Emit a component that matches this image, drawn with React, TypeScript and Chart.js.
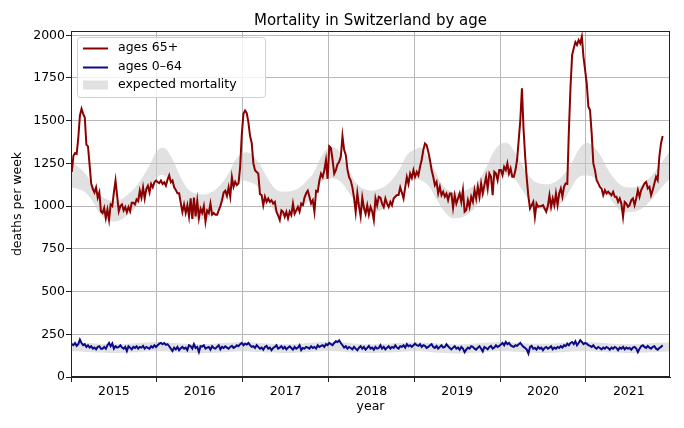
import { useEffect, useRef } from 'react';
import { Chart, registerables } from 'chart.js';
import type { Plugin } from 'chart.js';

Chart.register(...registerables);
Chart.defaults.font.family = '"DejaVu Sans", sans-serif';
Chart.defaults.color = '#000';

const years = [2015, 2016, 2017, 2018, 2019, 2020, 2021];
const weeksPerYear = [53, 52, 52, 52, 52, 53, 52];
const yTicks = [0, 250, 500, 750, 1000, 1250, 1500, 1750, 2000];

// weekly deaths, ages 65+
const deaths65_2015 = [1200, 1295, 1310, 1305, 1400, 1530, 1570, 1540, 1520, 1360, 1350, 1240, 1130, 1100, 1080, 1110, 1050, 1080, 970, 960, 990, 930, 980, 920, 1010, 1000, 1080, 1150, 1060, 970, 1000, 1010, 975, 995, 965, 995, 970, 1020, 1020, 1010, 1040, 1030, 1090, 1050, 1110, 1045, 1100, 1120, 1080, 1130, 1110, 1140, 1150];
const deaths65_2016 = [1140, 1135, 1150, 1130, 1140, 1120, 1155, 1180, 1140, 1150, 1110, 1095, 1075, 1075, 1020, 965, 1010, 960, 1005, 940, 1045, 925, 1050, 940, 1030, 930, 985, 960, 1000, 910, 975, 960, 1015, 950, 960, 950, 950, 975, 1000, 1035, 1080, 1090, 1060, 1110, 1055, 1170, 1113, 1142, 1123, 1133, 1230, 1420];
const deaths65_2017 = [1540, 1560, 1545, 1490, 1410, 1370, 1250, 1210, 1200, 1190, 1070, 1065, 1005, 1055, 1025, 1045, 1025, 1035, 1015, 1025, 967, 945, 918, 975, 967, 938, 967, 928, 967, 947, 1015, 955, 975, 995, 967, 1015, 1006, 1050, 1075, 1090, 1055, 1015, 1035, 967, 1090, 1085, 1150, 1190, 1170, 1210, 1270, 1160];
const deaths65_2018 = [1350, 1340, 1270, 1190, 1210, 1245, 1260, 1290, 1410, 1330, 1300, 1215, 1170, 1150, 1110, 1050, 965, 1075, 1000, 940, 1050, 990, 955, 1005, 950, 995, 970, 918, 1045, 1005, 1055, 1050, 1015, 995, 1045, 1015, 995, 1025, 1005, 1045, 1055, 1065, 1065, 1110, 1080, 1045, 1110, 1170, 1130, 1190, 1165, 1210];
const deaths65_2019 = [1172, 1200, 1180, 1230, 1270, 1330, 1367, 1357, 1318, 1270, 1211, 1172, 1123, 1142, 1074, 1113, 1064, 1084, 1055, 1074, 1035, 1074, 1074, 990, 1064, 1015, 1045, 1074, 1025, 1094, 967, 977, 1035, 995, 1055, 1025, 1094, 1045, 1113, 1055, 1133, 1074, 1123, 1172, 1103, 1191, 1172, 1064, 1201, 1191, 1152, 1211];
const deaths65_2020 = [1211, 1182, 1230, 1211, 1250, 1191, 1220, 1172, 1172, 1211, 1270, 1386, 1504, 1689, 1450, 1290, 1160, 1055, 986, 1006, 1025, 937, 1015, 996, 1000, 1000, 1006, 986, 967, 1000, 1064, 996, 1045, 1006, 1074, 1006, 1074, 1103, 1055, 1113, 1133, 1130, 1445, 1699, 1885, 1924, 1960, 1943, 1972, 1953, 1992, 1875, 1797];
const deaths65_2021 = [1719, 1582, 1562, 1426, 1250, 1211, 1152, 1133, 1113, 1103, 1064, 1094, 1074, 1084, 1074, 1064, 1084, 1055, 1055, 1025, 1045, 1015, 937, 1025, 1015, 996, 1006, 1035, 1045, 1006, 1045, 1094, 1055, 1094, 1113, 1133, 1142, 1103, 1113, 1064, 1094, 1133, 1172, 1152, 1289, 1367, 1410];

// weekly deaths, ages 0-64
const deaths064_2015 = [192, 186, 199, 182, 192, 219, 199, 186, 192, 176, 186, 172, 180, 166, 172, 162, 176, 180, 166, 166, 176, 166, 186, 199, 180, 196, 166, 180, 172, 176, 186, 172, 166, 176, 152, 180, 172, 162, 176, 170, 180, 166, 176, 172, 182, 166, 176, 170, 166, 180, 172, 186, 176];
const deaths064_2016 = [186, 195, 199, 192, 199, 188, 192, 180, 166, 152, 172, 162, 176, 157, 168, 176, 166, 172, 157, 186, 180, 166, 192, 170, 176, 146, 180, 178, 186, 166, 172, 176, 160, 180, 170, 166, 176, 186, 162, 176, 170, 180, 172, 166, 176, 182, 170, 176, 186, 180, 192, 199];
const deaths064_2017 = [186, 195, 190, 199, 186, 176, 180, 170, 186, 176, 166, 172, 160, 176, 182, 166, 172, 157, 170, 176, 186, 166, 172, 180, 166, 176, 162, 172, 180, 170, 160, 176, 166, 172, 186, 157, 170, 166, 176, 172, 166, 180, 170, 176, 166, 186, 176, 182, 186, 176, 192, 186];
const deaths064_2018 = [199, 192, 186, 199, 209, 205, 215, 199, 186, 172, 180, 166, 176, 170, 162, 176, 166, 157, 172, 180, 166, 176, 160, 170, 182, 166, 172, 160, 176, 166, 170, 186, 166, 176, 162, 172, 180, 166, 176, 170, 186, 172, 166, 180, 176, 186, 172, 192, 180, 186, 176, 186];
const deaths064_2019 = [195, 186, 182, 192, 176, 186, 182, 170, 176, 186, 192, 176, 170, 182, 166, 176, 186, 172, 176, 192, 180, 170, 162, 172, 180, 166, 172, 160, 176, 166, 145, 160, 172, 166, 180, 176, 166, 160, 172, 180, 166, 150, 176, 170, 162, 176, 182, 166, 172, 186, 176, 182];
const deaths064_2020 = [190, 199, 186, 205, 192, 199, 186, 180, 176, 186, 182, 192, 199, 186, 176, 170, 160, 137, 176, 182, 166, 170, 160, 176, 166, 172, 157, 170, 176, 166, 172, 180, 162, 172, 166, 176, 170, 180, 172, 186, 180, 195, 186, 199, 205, 192, 209, 186, 199, 215, 205, 192, 199];
const deaths064_2021 = [195, 186, 182, 176, 186, 172, 166, 176, 170, 162, 172, 166, 176, 170, 160, 172, 166, 176, 170, 157, 172, 166, 176, 162, 172, 166, 170, 160, 172, 176, 166, 145, 166, 180, 186, 176, 170, 182, 172, 166, 176, 180, 166, 160, 170, 176, 186];

// expected mortality band, ages 65+, at each month start (Jan 2015 .. Jan 2022)
const expected65Upper = [
  1260, 1230, 1190, 1130, 1070, 1040, 1030, 1040, 1070, 1110, 1170, 1240,
  1320, 1340, 1290, 1200, 1120, 1080, 1070, 1070, 1090, 1130, 1190, 1270,
  1310, 1310, 1270, 1200, 1130, 1090, 1085, 1090, 1110, 1150, 1200, 1290,
  1340, 1340, 1280, 1200, 1130, 1100, 1090, 1100, 1120, 1160, 1220, 1300,
  1330, 1340, 1280, 1200, 1120, 1090, 1080, 1090, 1110, 1150, 1220, 1310,
  1360, 1370, 1320, 1250, 1180, 1140, 1130, 1130, 1150, 1190, 1250, 1330,
  1370, 1350, 1300, 1220, 1160, 1120, 1110, 1110, 1130, 1170, 1220, 1280,
  1330,
];
const expected65Lower = [
  1110, 1100, 1080, 1030, 960, 920, 910, 920, 950, 990, 1040, 1100,
  1170, 1180, 1140, 1070, 990, 930, 920, 930, 960, 1010, 1070, 1130,
  1150, 1140, 1120, 1060, 1000, 950, 945, 950, 980, 1020, 1070, 1140,
  1160, 1160, 1130, 1070, 1010, 970, 965, 970, 990, 1030, 1090, 1150,
  1160, 1150, 1120, 1050, 980, 935, 930, 940, 970, 1020, 1080, 1150,
  1180, 1180, 1160, 1100, 1040, 990, 980, 980, 1000, 1040, 1110, 1170,
  1180, 1170, 1130, 1070, 1010, 970, 965, 970, 990, 1030, 1080, 1130,
  1170,
];

// expected mortality band, ages 0-64, every second month start
const expected064Upper = [
  205, 200, 195, 192, 195, 200,
  205, 200, 194, 192, 194, 200,
  205, 200, 194, 192, 195, 202,
  207, 202, 195, 192, 195, 200,
  204, 200, 194, 190, 194, 200,
  205, 202, 196, 194, 197, 203,
  205, 200, 195, 192, 195, 200,
  204,
];
const expected064Lower = [
  150, 147, 143, 140, 143, 147,
  150, 147, 142, 140, 142, 147,
  151, 147, 143, 140, 143, 148,
  152, 148, 143, 140, 143, 147,
  150, 147, 142, 138, 142, 147,
  151, 148, 144, 141, 144, 149,
  151, 147, 143, 140, 143, 147,
  150,
];

const deaths65 = [deaths65_2015, deaths65_2016, deaths65_2017, deaths65_2018, deaths65_2019, deaths65_2020, deaths65_2021];
const deaths064 = [deaths064_2015, deaths064_2016, deaths064_2017, deaths064_2018, deaths064_2019, deaths064_2020, deaths064_2021];

const BAND = 'rgba(200, 200, 200, 0.55)';
const FONT = '12.5px "DejaVu Sans", sans-serif';

function weekly(series: number[][]) {
  return series.flatMap((vals, i) =>
    vals.map((y, k) => ({ x: years[i] + (k + 0.5) / weeksPerYear[i], y }))
  );
}

function stepped(vals: number[], perYear: number) {
  return vals.map((y, m) => ({ x: years[0] + m / perYear, y }));
}

const decorations: Plugin<'line'> = {
  id: 'decorations',
  afterDraw(chart) {
    const { ctx, chartArea } = chart;
    const { left, right, top, bottom } = chartArea;
    ctx.save();

    // frame
    ctx.strokeStyle = '#222';
    ctx.lineWidth = 1;
    ctx.strokeRect(left + 0.5, top + 0.5, right - left - 1, bottom - top - 1);

    // title
    ctx.fillStyle = '#000';
    ctx.font = '15px "DejaVu Sans", sans-serif';
    ctx.textAlign = 'center';
    ctx.textBaseline = 'alphabetic';
    ctx.fillText('Mortality in Switzerland by age', (left + right) / 2, 25);

    // legend
    const ds = chart.data.datasets;
    const bx = 77, by = 37, bw = 188, bh = 60;
    ctx.beginPath();
    ctx.roundRect(bx + 0.5, by + 0.5, bw, bh, 3);
    ctx.fillStyle = 'rgba(255,255,255,0.8)';
    ctx.fill();
    ctx.strokeStyle = '#d0d0d0';
    ctx.stroke();

    const rows = [48, 67, 85];
    ctx.font = FONT;
    ctx.textAlign = 'left';
    ctx.textBaseline = 'middle';
    [0, 1].forEach((i) => {
      ctx.strokeStyle = ds[i].borderColor as string;
      ctx.lineWidth = 2;
      ctx.beginPath();
      ctx.moveTo(83, rows[i] + 0.5);
      ctx.lineTo(108, rows[i] + 0.5);
      ctx.stroke();
      ctx.fillStyle = '#000';
      ctx.fillText(ds[i].label as string, 118, rows[i]);
    });
    ctx.fillStyle = BAND;
    ctx.fillRect(83, rows[2] - 4.5, 25, 9);
    ctx.fillStyle = '#000';
    ctx.fillText(ds[2].label as string, 118, rows[2]);

    ctx.restore();
  },
};

export default function App() {
  const canvasRef = useRef<HTMLCanvasElement>(null);

  useEffect(() => {
    if (!canvasRef.current) return;
    const chart = new Chart(canvasRef.current, {
      type: 'line',
      data: {
        datasets: [
          {
            label: 'ages 65+',
            data: weekly(deaths65),
            borderColor: '#8b0000',
            borderWidth: 2,
            pointRadius: 0,
            fill: false,
          },
          {
            label: 'ages 0–64',
            data: weekly(deaths064),
            borderColor: '#0a0a8a',
            borderWidth: 2,
            pointRadius: 0,
            fill: false,
          },
          {
            label: 'expected mortality',
            data: stepped(expected65Upper, 12),
            borderWidth: 0,
            borderColor: 'rgba(0,0,0,0)',
            backgroundColor: BAND,
            pointRadius: 0,
            tension: 0.4,
            fill: '+1',
          },
          {
            label: 'expected 65 lower',
            data: stepped(expected65Lower, 12),
            borderWidth: 0,
            borderColor: 'rgba(0,0,0,0)',
            pointRadius: 0,
            tension: 0.4,
            fill: false,
          },
          {
            label: 'expected 0-64 upper',
            data: stepped(expected064Upper, 6),
            borderWidth: 0,
            borderColor: 'rgba(0,0,0,0)',
            backgroundColor: BAND,
            pointRadius: 0,
            tension: 0.4,
            fill: '+1',
          },
          {
            label: 'expected 0-64 lower',
            data: stepped(expected064Lower, 6),
            borderWidth: 0,
            borderColor: 'rgba(0,0,0,0)',
            pointRadius: 0,
            tension: 0.4,
            fill: false,
          },
        ],
      },
      options: {
        responsive: false,
        animation: false,
        events: [],
        layout: { padding: { left: 0, right: 14, top: 31, bottom: 0 } },
        plugins: {
          legend: { display: false },
          tooltip: { enabled: false },
          title: { display: false },
        },
        scales: {
          x: {
            type: 'linear',
            min: 2015,
            max: 2021.98,
            afterBuildTicks: (axis) => {
              axis.ticks = years.flatMap((y) => [{ value: y }, { value: y + 0.5 }]);
            },
            afterFit: (axis) => {
              axis.height = 51;
            },
            ticks: {
              autoSkip: false,
              maxRotation: 0,
              padding: 2,
              color: '#000',
              font: { size: 12.5 },
              callback: (v) => (Number.isInteger(Number(v)) ? '' : String(Math.floor(Number(v)))),
            },
            grid: {
              color: (c) => (c.tick && Number.isInteger(c.tick.value) ? '#b8b8b8' : 'rgba(0,0,0,0)'),
              tickColor: (c) => (c.tick && Number.isInteger(c.tick.value) ? '#222' : 'rgba(0,0,0,0)'),
              tickLength: 5,
              lineWidth: 1,
            },
            border: { color: '#222', width: 1 },
            title: {
              display: true,
              text: 'year',
              color: '#000',
              font: { size: 12.5 },
              padding: { top: 0, bottom: 14 },
            },
          },
          y: {
            min: 0,
            max: 2025,
            afterBuildTicks: (axis) => {
              axis.ticks = yTicks.map((v) => ({ value: v }));
            },
            afterFit: (axis) => {
              axis.width = 71;
            },
            ticks: {
              padding: 1,
              color: '#000',
              font: { size: 12.5 },
              callback: (v) => String(v),
            },
            grid: {
              color: '#b8b8b8',
              tickColor: '#222',
              tickLength: 5,
              lineWidth: 1,
            },
            border: { color: '#222', width: 1 },
            title: {
              display: true,
              text: 'deaths per week',
              color: '#000',
              font: { size: 12.5 },
              padding: { top: 10.5, bottom: 0 },
            },
          },
        },
      },
      plugins: [decorations],
    });
    return () => chart.destroy();
  }, []);

  return (
    <div style={{ position: 'absolute', left: 0, top: 0, width: 684, height: 428, background: '#fff' }}>
      <canvas ref={canvasRef} width={684} height={428} />
    </div>
  );
}
